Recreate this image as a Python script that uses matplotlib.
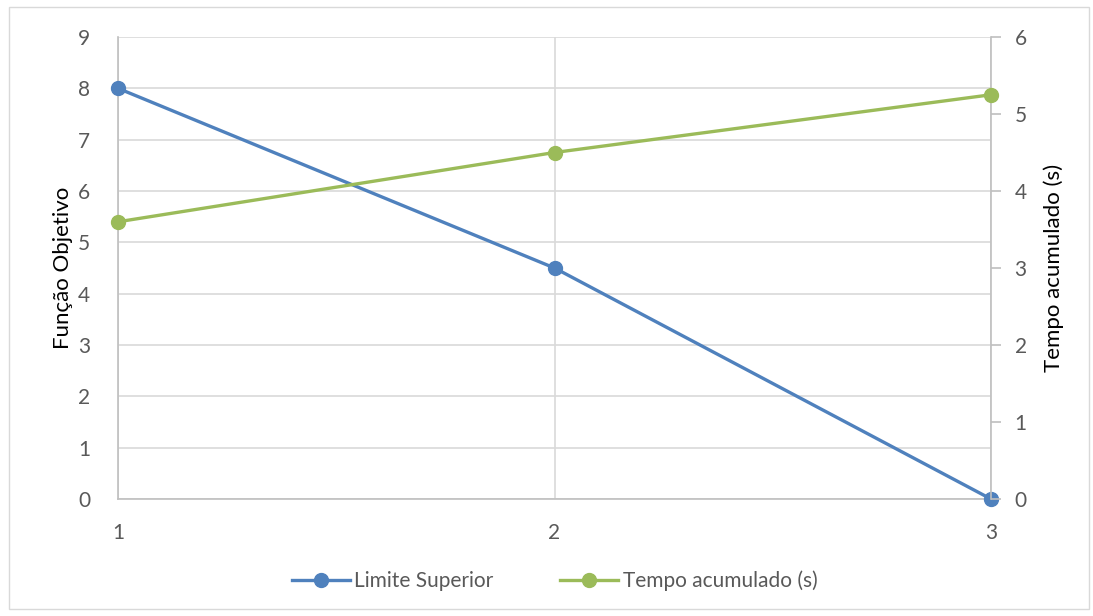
import matplotlib
matplotlib.use("Agg")
import matplotlib.pyplot as plt
from matplotlib.patches import Rectangle

##  Data
iteracao = [1, 2, 3]
limite_superior = [8, 4.5, 0]
tempo_acumulado = [3.6, 4.5, 5.25]

y1_ticks = list(range(0, 10))
y2_ticks = list(range(0, 7))

##  Style
azul = "#4F81BD"
verde = "#9BBB59"
cinza_txt = "#595959"
cinza_grade = "#D9D9D9"
cinza_eixo = "#BFBFBF"

plt.rcParams["font.family"] = ["Lato", "DejaVu Sans"]

fig = plt.figure(figsize=(10.93, 6.16), dpi=100)
fig.patches.append(Rectangle((9 / 1093, 1 - 609 / 616), 1080 / 1093, 602 / 616,
                             transform=fig.transFigure, fill=False,
                             edgecolor="#D9D9D9", linewidth=1))

ax = fig.add_axes([118 / 1093, 1 - 499 / 616, (991 - 118) / 1093, (499 - 37) / 616])
ax2 = ax.twinx()

l1, = ax.plot(iteracao, limite_superior, color=azul, linewidth=2.4,
              marker="o", markersize=10, label="Limite Superior",
              zorder=3, clip_on=False)
l2, = ax2.plot(iteracao, tempo_acumulado, color=verde, linewidth=2.4,
               marker="o", markersize=10, label="Tempo acumulado (s)",
               zorder=3, clip_on=False)

ax.set_xlim(1, 3)
ax.set_ylim(0, 9)
ax2.set_ylim(0, 6)
ax.set_xticks(iteracao)
ax.set_yticks(y1_ticks)
ax2.set_yticks(y2_ticks)

ax.grid(True, color=cinza_grade, linewidth=1.2)
ax.set_axisbelow(True)

for a in (ax, ax2):
    for s in a.spines.values():
        s.set_visible(False)

ax.spines["left"].set_visible(True)
ax.spines["left"].set_color(cinza_eixo)
ax.spines["left"].set_linewidth(1.2)
ax.spines["bottom"].set_visible(True)
ax.spines["bottom"].set_color(cinza_eixo)
ax.spines["bottom"].set_linewidth(1.2)
ax2.spines["right"].set_visible(True)
ax2.spines["right"].set_color(cinza_eixo)
ax2.spines["right"].set_linewidth(1.2)

ax.tick_params(axis="both", length=0, labelsize=15, labelcolor=cinza_txt)
ax.tick_params(axis="y", pad=20)
ax.tick_params(axis="x", pad=17)
ax2.tick_params(axis="y", length=7, width=1.2, color=cinza_eixo, direction="out",
                labelsize=15, labelcolor=cinza_txt, pad=10)

ax.set_ylabel("Função Objetivo", fontsize=16, color="black", labelpad=4)
ax2.set_ylabel("Tempo acumulado (s)", fontsize=16, color="black", labelpad=12)

fig.legend(handles=[l1, l2], loc="center", bbox_to_anchor=(554.5 / 1093, 1 - 581 / 616),
           ncol=2, frameon=False, fontsize=15, labelcolor=cinza_txt,
           handlelength=2.8, columnspacing=3.2, handletextpad=0.2)

fig.savefig("out.png", dpi=100)
